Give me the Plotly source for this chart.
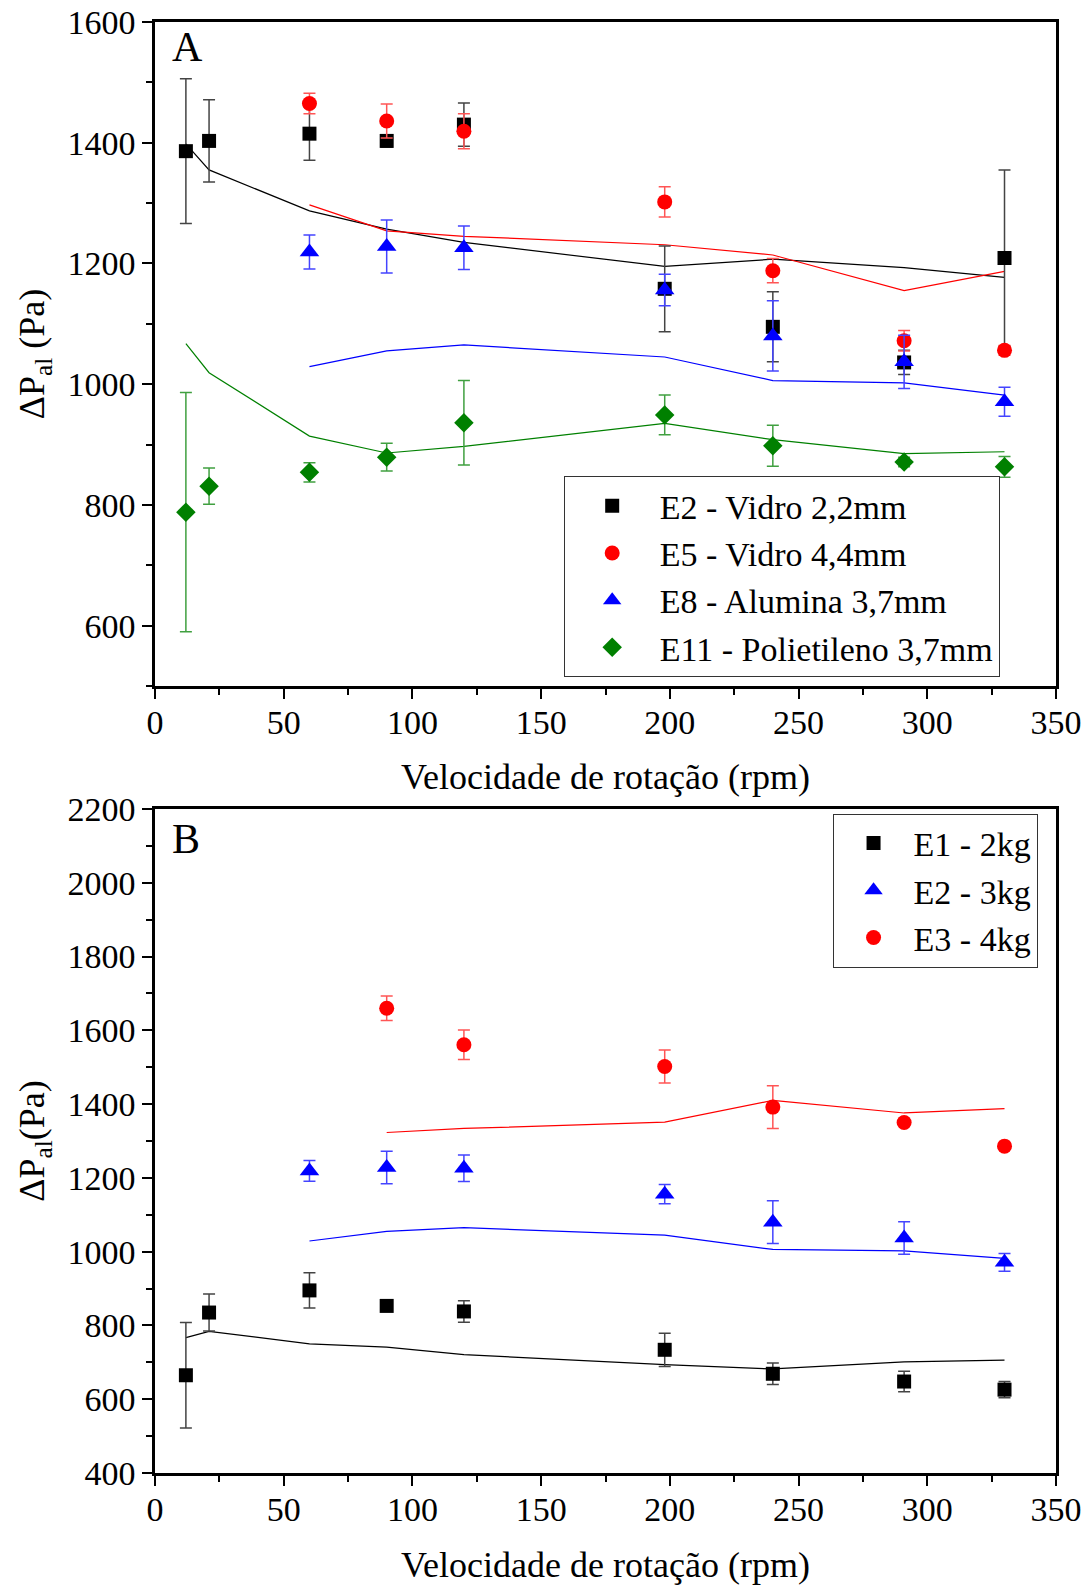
import plotly.graph_objects as go

# rotation speed (rpm)
rpm_all = [12, 21, 60, 90, 120, 198, 240, 291, 330]
rpm_60 = [60, 90, 120, 198, 240, 291, 330]
rpm_90 = [90, 120, 198, 240, 291, 330]

# panel A - experimental points and error bars
e2_vidro = [1386, 1403, 1415, 1403, 1430, 1158, 1095, 1036, 1209]
e2_vidro_err = [120, 68, 44, 10, 36, 71, 58, 20, 146]
e5_vidro = [1465, 1436, 1419, 1302, 1188, 1072, 1056]
e5_vidro_err = [17, 28, 29, 25, 20, 17, 8]
e8_alumina = [1219, 1228, 1226, 1156, 1080, 1037, 971]
e8_alumina_err = [28, 44, 36, 26, 58, 44, 24]
e11_polietileno = [788, 831, 854, 879, 936, 949, 898, 871, 863]
e11_polietileno_err = [198, 30, 16, 23, 70, 33, 34, 8, 17]

# panel A - model curves
e2_model = [1398, 1355, 1287, 1257, 1235, 1195, 1207, 1193, 1177]
e5_model = [1297, 1254, 1245, 1231, 1214, 1155, 1187]
e8_model = [1029, 1055, 1065, 1045, 1006, 1002, 982]
e11_model = [1067, 1019, 914, 886, 897, 935, 908, 885, 888]

# panel B - experimental points and error bars
e1_2kg = [665, 835, 895, 853, 838, 734, 669, 648, 626]
e1_2kg_err = [143, 50, 48, 10, 29, 45, 29, 28, 22]
e2_3kg = e8_alumina
e2_3kg_err = e8_alumina_err
e3_4kg = [1660, 1561, 1502, 1392, 1350, 1286]
e3_4kg_err = [33, 40, 45, 58, 0, 0]

# panel B - model curves
e1_model = [767, 784, 750, 741, 721, 694, 682, 701, 706]
e2_3kg_model = e8_model
e3_model = [1323, 1334, 1351, 1410, 1376, 1388]

FONT = "Liberation Serif"

fig = go.Figure()


def add_points(x, y, err, name, color, errcolor, symbol, size, xa, ya, legend):
    fig.add_trace(go.Scatter(
        x=x, y=y, mode="markers", name=name, xaxis=xa, yaxis=ya, legend=legend,
        marker=dict(symbol=symbol, size=size, color=color, line=dict(width=0)),
        error_y=dict(type="data", array=err, color=errcolor, thickness=1.5, width=6),
    ))


def add_line(x, y, color, xa, ya):
    fig.add_trace(go.Scatter(
        x=x, y=y, mode="lines", showlegend=False, xaxis=xa, yaxis=ya,
        line=dict(color=color, width=1.2),
    ))


# panel A
add_line(rpm_all, e2_model, "black", "x", "y")
add_line(rpm_60, e5_model, "red", "x", "y")
add_line(rpm_60, e8_model, "blue", "x", "y")
add_line(rpm_all, e11_model, "green", "x", "y")
add_points(rpm_all, e2_vidro, e2_vidro_err, "E2 - Vidro 2,2mm", "black", "#444444", "square", 14, "x", "y", "legend")
add_points(rpm_60, e5_vidro, e5_vidro_err, "E5 - Vidro 4,4mm", "red", "#ff5555", "circle", 15, "x", "y", "legend")
add_points(rpm_60, e8_alumina, e8_alumina_err, "E8 - Alumina 3,7mm", "blue", "#4444ff", "triangle-up", 17, "x", "y", "legend")
add_points(rpm_all, e11_polietileno, e11_polietileno_err, "E11 - Polietileno 3,7mm", "green", "#40a040", "diamond", 15, "x", "y", "legend")

# panel B
add_line(rpm_all, e1_model, "black", "x2", "y2")
add_line(rpm_60, e2_3kg_model, "blue", "x2", "y2")
add_line(rpm_90, e3_model, "red", "x2", "y2")
add_points(rpm_all, e1_2kg, e1_2kg_err, "E1 - 2kg", "black", "#444444", "square", 14, "x2", "y2", "legend2")
add_points(rpm_60, e2_3kg, e2_3kg_err, "E2 - 3kg", "blue", "#4444ff", "triangle-up", 17, "x2", "y2", "legend2")
add_points(rpm_90, e3_4kg, e3_4kg_err, "E3 - 4kg", "red", "#ff5555", "circle", 15, "x2", "y2", "legend2")

axis_common = dict(
    showline=True, linecolor="black", linewidth=2.5, mirror=True,
    ticks="outside", ticklen=10, tickwidth=2, tickcolor="black",
    showgrid=False, zeroline=False, automargin=False, ticklabeloverflow="allow",
    tickfont=dict(family=FONT, size=34, color="black"),
)
xaxis_common = dict(axis_common, range=[0, 350], dtick=50, tick0=0, ticklabelstandoff=-6,
                    minor=dict(dtick=25, ticks="outside", ticklen=6, tickwidth=2, tickcolor="black"))
title_font = dict(family=FONT, size=36)

# the page body adds an 8px offset, so the figure is 8px smaller than the window
fig.update_layout(
    width=1081, height=1579,
    margin=dict(l=147, r=33, t=14, b=114),
    plot_bgcolor="white", paper_bgcolor="white",
    font=dict(family=FONT, color="black"),
    xaxis=dict(xaxis_common, domain=[0, 1], anchor="y",
               title=dict(text="Velocidade de rotação (rpm)", font=title_font, standoff=25)),
    yaxis=dict(axis_common, domain=[0.5424, 1], anchor="x", range=[500, 1600], dtick=200, tick0=0,
               minor=dict(dtick=100, ticks="outside", ticklen=6, tickwidth=2, tickcolor="black"),
               title=dict(text="ΔP<sub>al</sub> (Pa)", font=title_font, standoff=12)),
    xaxis2=dict(xaxis_common, domain=[0, 1], anchor="y2",
                title=dict(text="Velocidade de rotação (rpm)", font=title_font, standoff=26)),
    yaxis2=dict(axis_common, domain=[0, 0.4576], anchor="x2", range=[400, 2200], dtick=200, tick0=0,
                minor=dict(dtick=100, ticks="outside", ticklen=6, tickwidth=2, tickcolor="black"),
                title=dict(text="ΔP<sub>al</sub>(Pa)", font=title_font, standoff=12)),
    legend=dict(x=0.4536, y=0.687, xanchor="left", yanchor="top",
                bordercolor="#333333", borderwidth=1, bgcolor="white",
                font=dict(family=FONT, size=34), itemwidth=85, tracegroupgap=0),
    legend2=dict(x=0.752, y=0.4545, xanchor="left", yanchor="top",
                 bordercolor="#333333", borderwidth=1, bgcolor="white",
                 font=dict(family=FONT, size=34), itemwidth=70, tracegroupgap=0),
    annotations=[
        dict(text="A", x=0.0166, y=1.0, xref="paper", yref="paper", xanchor="left", yanchor="top",
             showarrow=False, font=dict(family=FONT, size=42)),
        dict(text="B", x=0.0166, y=0.4545, xref="paper", yref="paper", xanchor="left", yanchor="top",
             showarrow=False, font=dict(family=FONT, size=42)),
    ],
)

fig.write_html("out.html")
